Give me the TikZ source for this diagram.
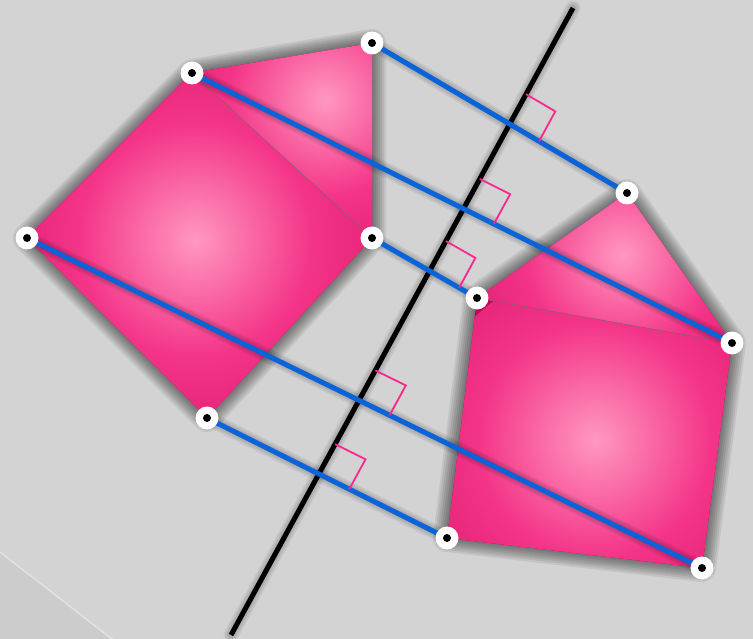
\documentclass[tikz,border=0pt]{standalone}
\usepackage{tikz}
\usetikzlibrary{calc,intersections}
\definecolor{bggray}{RGB}{211,211,211}
\definecolor{cornergray}{RGB}{204,204,204}
\definecolor{edgegray}{RGB}{226,226,226}
\definecolor{pinklite}{RGB}{255,152,192}
\definecolor{pinkmid}{RGB}{244,52,136}
\definecolor{pinkdeep}{RGB}{196,0,84}
\definecolor{mirrorblue}{RGB}{8,100,216}
\definecolor{markpink}{RGB}{250,40,140}
\pgfdeclareradialshading{pinkglow}{\pgfpointorigin}{color(0bp)=(pinklite); color(17bp)=(pinkmid); color(50bp)=(pinkdeep)}
\tikzset{
  linkline/.style={mirrorblue,line width=5pt},
  rmark/.style={markpink,line width=1.8pt,line cap=butt,line join=miter},
  softshade/.style={black,opacity=#1}
}

\begin{document}
\begin{tikzpicture}[x=1pt,y=-1pt,line cap=round,line join=round]
 \fill[bggray] (0,0) rectangle (753,639);
 \useasboundingbox (0,0) rectangle (753,639);
 \fill[cornergray] (0,552)--(112,639)--(0,639)--cycle;
 \draw[edgegray,line width=1.5pt] (0,552)--(112,639);
 % points of the figure and of its image
 \coordinate (A) at (192,73);
 \coordinate (B) at (372,43);
 \coordinate (C) at (372,238);
 \coordinate (D) at (207,418);
 \coordinate (E) at (27,238);
 \coordinate (Ap) at (732,343);
 \coordinate (Bp) at (627,193);
 \coordinate (Cp) at (477,298);
 \coordinate (Dp) at (447,538);
 \coordinate (Ep) at (702,568);
 \coordinate (M1) at (573,8);
 \coordinate (M2) at (231,635);
 % shadows of the two shapes
 \foreach \w in {28,24,20,16,12,8,4}{
  \draw[softshade=0.075,line width=\w pt,shift={(-4,-5)}]
   (E)--(A)--(B)--(C)--(D)--cycle;
  \draw[softshade=0.075,line width=\w pt,shift={(-4,-5)}]
   (Ep)--(Ap)--(Bp)--(Cp)--(Dp)--cycle;
 }
 % shaded pieces
 \begin{scope}
  \clip (E)--(A)--(C)--(D)--cycle;
  \fill[pinkdeep] (0,0) rectangle (753,639);
  \shade[shading=pinkglow] (195,240) circle (172pt);
 \end{scope}
 \begin{scope}
  \clip (A)--(B)--(C)--cycle;
  \fill[pinkdeep] (0,0) rectangle (753,639);
  \shade[shading=pinkglow] (325,100) circle (142pt);
 \end{scope}
 \begin{scope}
  \clip (Ap)--(Cp)--(Dp)--(Ep)--cycle;
  \fill[pinkdeep] (0,0) rectangle (753,639);
  \shade[shading=pinkglow] (595,440) circle (172pt);
 \end{scope}
 \begin{scope}
  \clip (Ap)--(Bp)--(Cp)--cycle;
  \fill[pinkdeep] (0,0) rectangle (753,639);
  \shade[shading=pinkglow] (622,255) circle (140pt);
 \end{scope}
 \draw[black!55,opacity=.6,line width=.8pt] (A)--(C);
 \draw[black!55,opacity=.6,line width=.8pt] (Ap)--(Cp);
 % shadows of the lines
 \foreach \w in {15,12,9,6}{
  \draw[softshade=0.055,line width=\w pt,shift={(-3,4)}] (M1)--(M2);
  \foreach \p/\q in {A/Ap,B/Bp,C/Cp,D/Dp,E/Ep}
   \draw[softshade=0.055,line width=\w pt,shift={(-3,4)}] (\p)--(\q);
 }
 \draw[black,line width=5pt,line cap=butt,name path=mirror] (M1)--(M2);
 \foreach \p/\q in {A/Ap,B/Bp,C/Cp,D/Dp,E/Ep}
  \draw[linkline] (\p)--(\q);
 % right angles on the mirror
 \foreach \p/\q in {A/Ap,B/Bp,C/Cp,D/Dp,E/Ep}{
  \path[name path=link] (\p)--(\q);
  \path[name intersections={of=link and mirror}] (intersection-1) coordinate (X\p);
  \coordinate (u\p) at ($(X\p)!34pt!(M1)$);
  \coordinate (v\p) at ($(X\p)!34pt!(\q)$);
  \draw[rmark] (u\p) -- ($(u\p)+(v\p)-(X\p)$) -- (v\p);
 }
 % the points
 \foreach \p in {A,B,C,D,E,Ap,Bp,Cp,Dp,Ep}{
  \fill[white] (\p) circle (11.5pt);
  \fill[black] (\p) circle (4pt);
 }
\end{tikzpicture}
\end{document}
